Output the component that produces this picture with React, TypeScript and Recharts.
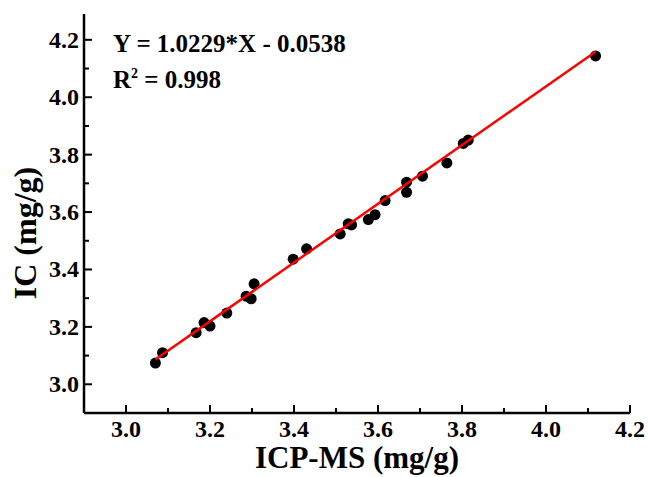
import { ScatterChart, Scatter, XAxis, YAxis, Label } from "recharts"

// ICP-MS (x) vs IC (y), mg/g
const icpms = [
  3.07, 3.087, 3.167, 3.186, 3.2, 3.24, 3.286, 3.298, 3.305, 3.398, 3.43, 3.51,
  3.529, 3.537, 3.577, 3.593, 3.617, 3.668, 3.668, 3.706, 3.764, 3.803, 3.815, 4.118,
]
const ic = [
  3.074, 3.11, 3.18, 3.215, 3.203, 3.248, 3.307, 3.298, 3.35, 3.436, 3.472, 3.524,
  3.559, 3.555, 3.574, 3.591, 3.64, 3.704, 3.669, 3.725, 3.771, 3.839, 3.851, 4.144,
]

const slope = 1.0229
const intercept = -0.0538

const xTicks = [3.0, 3.1, 3.2, 3.3, 3.4, 3.5, 3.6, 3.7, 3.8, 3.9, 4.0, 4.1, 4.2]
const yTicks = [3.0, 3.1, 3.2, 3.3, 3.4, 3.5, 3.6, 3.7, 3.8, 3.9, 4.0, 4.1, 4.2]
const majorLabels = ["3.0", "3.2", "3.4", "3.6", "3.8", "4.0", "4.2"]

const points = icpms.map((x, i) => ({ x, y: ic[i] }))
const xMin = Math.min(...icpms)
const xMax = Math.max(...icpms)
const fitLine = [
  { x: xMin, y: slope * xMin + intercept },
  { x: xMax, y: slope * xMax + intercept },
]

const FONT = '"Liberation Serif", "Times New Roman", serif'

function XTick(props: any) {
  const { x, y, payload } = props
  const label = Number(payload.value).toFixed(1)
  const major = majorLabels.includes(label)
  return (
    <g>
      <line x1={x} y1={y} x2={x} y2={y - (major ? 8 : 5)} stroke="#000" strokeWidth={2} />
      {major && (
        <text x={x} y={y + 24} textAnchor="middle" fontFamily={FONT} fontWeight="bold" fontSize={24} fill="#000">
          {label}
        </text>
      )}
    </g>
  )
}

function YTick(props: any) {
  const { x, y, payload } = props
  const label = Number(payload.value).toFixed(1)
  const major = majorLabels.includes(label)
  return (
    <g>
      <line x1={x} y1={y} x2={x + (major ? 8 : 5)} y2={y} stroke="#000" strokeWidth={2} />
      {major && (
        <text x={x - 5} y={y + 8} textAnchor="end" fontFamily={FONT} fontWeight="bold" fontSize={24} fill="#000">
          {label}
        </text>
      )}
    </g>
  )
}

const Dot = (p: any) => <circle cx={p.cx} cy={p.cy} r={5.5} fill="#000" />

const noteStyle = {
  position: "absolute" as const,
  left: 113,
  fontFamily: FONT,
  fontWeight: "bold",
  fontSize: 25,
  lineHeight: "25px",
  whiteSpace: "pre" as const,
  color: "#000",
}

export default function App() {
  return (
    <div style={{ position: "absolute", left: 0, top: 0, width: 648, height: 477, background: "#fff" }}>
      <ScatterChart width={648} height={477} margin={{ top: 14, right: 18, bottom: 0, left: 0 }}>
        <XAxis
          dataKey="x"
          type="number"
          domain={[2.9, 4.2]}
          ticks={xTicks}
          interval={0}
          allowDataOverflow
          height={64}
          tickSize={0}
          tickMargin={0}
          tick={<XTick />}
          axisLine={{ stroke: "#000", strokeWidth: 2.5 }}
        >
          <Label
            content={(p: any) => {
              const vb = p.viewBox
              return (
                <text x={vb.x + vb.width / 2} y={468} textAnchor="middle" fontFamily={FONT} fontWeight="bold" fontSize={31} fill="#000">
                  ICP-MS (mg/g)
                </text>
              )
            }}
          />
        </XAxis>
        <XAxis
          xAxisId="top"
          orientation="top"
          type="number"
          domain={[2.9, 4.2]}
          height={0}
          tick={false}
          tickLine={false}
          axisLine={{ stroke: "#000", strokeWidth: 2.5 }}
        />
        <YAxis
          dataKey="y"
          type="number"
          domain={[2.9, 4.29]}
          ticks={yTicks}
          interval={0}
          allowDataOverflow
          width={84}
          tickSize={0}
          tickMargin={0}
          tick={<YTick />}
          axisLine={{ stroke: "#000", strokeWidth: 2.5 }}
        >
          <Label
            content={() => (
              <text
                x={25}
                y={233}
                transform="rotate(-90, 25, 233)"
                textAnchor="middle"
                dominantBaseline="central"
                fontFamily={FONT}
                fontWeight="bold"
                fontSize={32}
                fill="#000"
              >
                IC (mg/g)
              </text>
            )}
          />
        </YAxis>
        <YAxis
          yAxisId="right"
          orientation="right"
          type="number"
          domain={[2.9, 4.29]}
          width={0}
          tick={false}
          tickLine={false}
          axisLine={{ stroke: "#000", strokeWidth: 2.5 }}
        />
        <Scatter data={points} shape={Dot} isAnimationActive={false} />
        <Scatter
          data={fitLine}
          line={{ stroke: "#ff0000", strokeWidth: 2.5 }}
          lineType="joint"
          shape={() => <g />}
          isAnimationActive={false}
        />
      </ScatterChart>
      <div style={{ ...noteStyle, top: 31 }}>Y = 1.0229*X - 0.0538</div>
      <div style={{ ...noteStyle, top: 67 }}>
        R<sup style={{ fontSize: 14, lineHeight: 0, verticalAlign: "10px" }}>2</sup> = 0.998
      </div>
    </div>
  )
}
